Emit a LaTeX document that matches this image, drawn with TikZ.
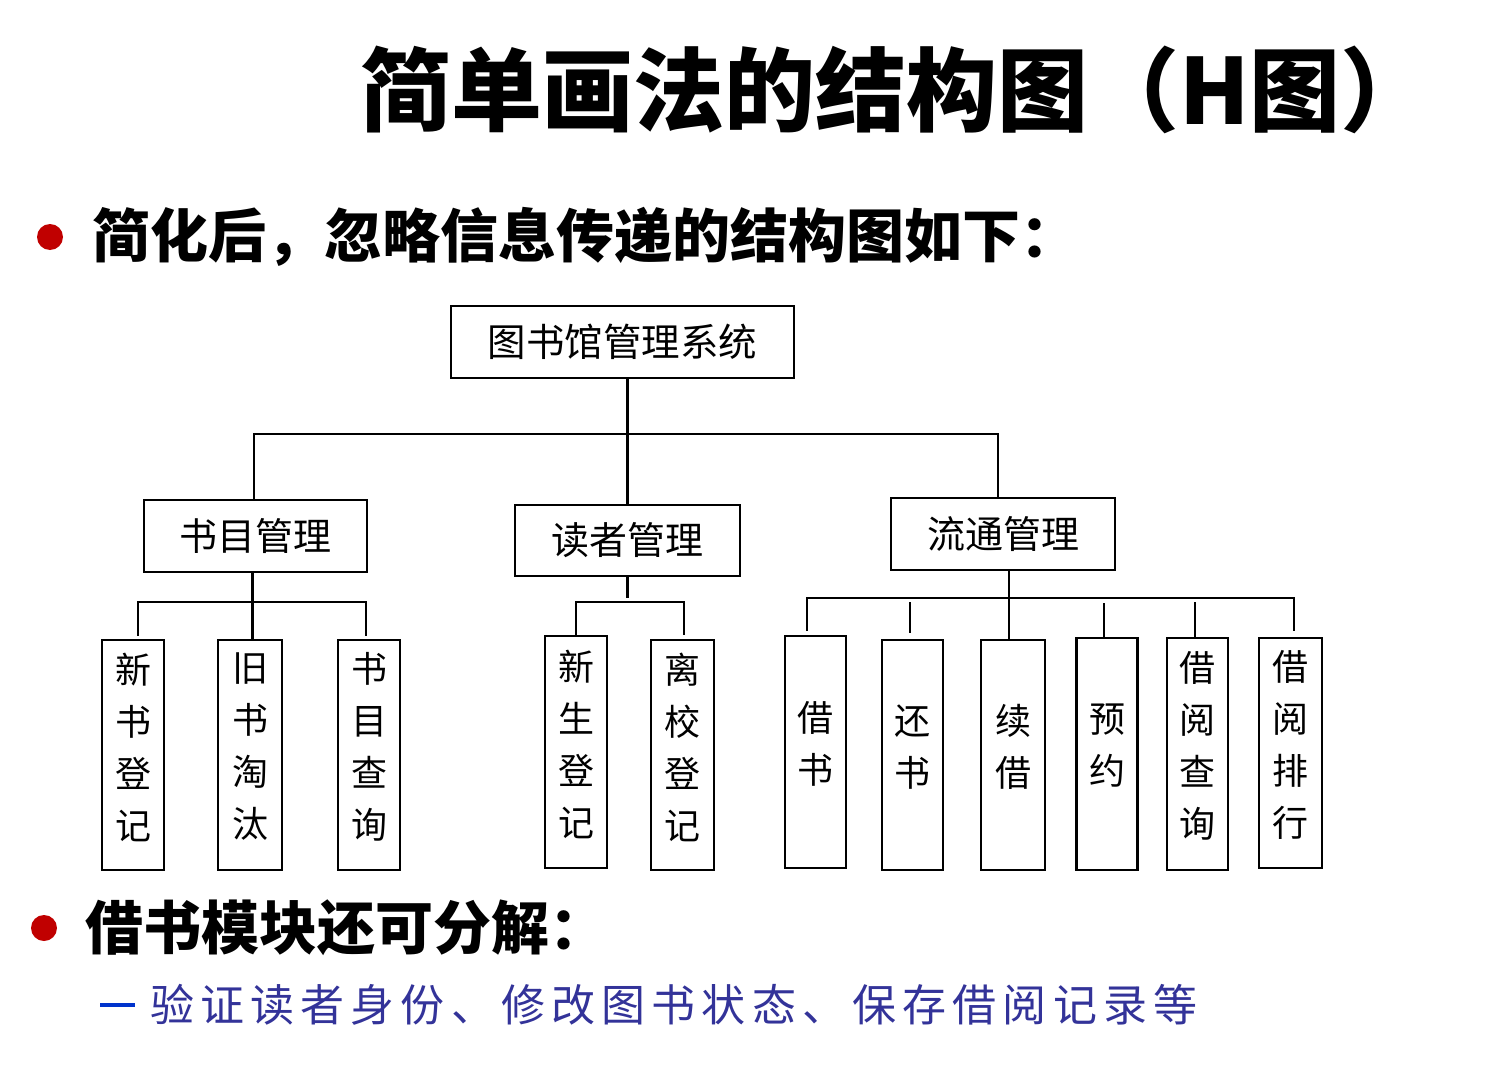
\documentclass[tikz,border=0pt]{standalone}
\usepackage{fontspec}
\setmainfont{Noto Sans CJK SC}
\definecolor{bulletred}{HTML}{C00000}
\definecolor{subblue}{HTML}{333399}
\definecolor{dashblue}{HTML}{0033CC}
\begin{document}
\begin{tikzpicture}[x=1pt,y=-1pt,
  box/.style={draw=black,line width=2.2pt,rectangle,inner sep=0pt,align=center},
  midbox/.style={box,minimum width=224pt,minimum height=72pt,font=\fontsize{38}{46}\selectfont},
  leaf/.style={box,minimum width=63pt,minimum height=230pt},
  leaftext/.style={inner sep=0pt,align=center,font=\fontsize{36}{52}\selectfont},
  link/.style={draw=black,line width=2.2pt},
]
\useasboundingbox (0,0) rectangle (1492,1070);
% title
\node[font=\fontsize{91}{108}\selectfont\bfseries] (title) at (896,90) {简单画法的结构图（H图）};
% bullet 1
\fill[bulletred] (50,237) circle (13) coordinate (dot1);
\node[anchor=west,inner sep=0pt,font=\fontsize{58}{66}\selectfont\bfseries] (b1) at (92,237) {简化后，忽略信息传递的结构图如下：};
% tree: upper levels
\node[box,minimum width=343pt,minimum height=72pt,font=\fontsize{38.5}{46}\selectfont] (root) at (622.5,342) {图书馆管理系统};
\node[midbox,minimum width=223pt] (A) at (255.5,536) {书目管理};
\node[midbox,minimum width=225pt,minimum height=71pt] (B) at (627.5,540.5) {读者管理};
\node[midbox] (C) at (1003,534) {流通管理};
% leaves
\node[leaf,minimum width=62pt] (A1) at (133,755) {};
\node[leaf,minimum width=64pt] (A2) at (250,755) {};
\node[leaf,minimum width=62pt] (A3) at (369,755) {};
\node[leaf,minimum width=62pt,minimum height=232pt] (B1) at (576,752) {};
\node[leaf] (B2) at (682.5,755) {};
\node[leaf,minimum width=61pt,minimum height=232pt] (C1) at (815.5,752) {};
\node[leaf,minimum width=61pt] (C2) at (912.5,755) {};
\node[leaf,minimum width=64pt] (C3) at (1013,755) {};
\node[leaf,minimum width=61pt,minimum height=232pt] (C4) at (1107,754) {};
\node[leaf,minimum width=61pt,minimum height=232pt] (C5) at (1197.5,754) {};
\node[leaf] (C6) at (1290.5,753) {};
% leaf texts
\node[leaftext] (tA1) at ([yshift=8pt]A1.center) {新\\书\\登\\记};
\node[leaftext] (tA2) at ([yshift=8pt]A2.center) {旧\\书\\淘\\汰};
\node[leaftext] (tA3) at ([yshift=8pt]A3.center) {书\\目\\查\\询};
\node[leaftext] (tB1) at ([yshift=8pt]B1.center) {新\\生\\登\\记};
\node[leaftext] (tB2) at ([yshift=8pt]B2.center) {离\\校\\登\\记};
\node[leaftext] (tC1) at ([yshift=8pt]C1.center) {借\\书};
\node[leaftext] (tC2) at ([yshift=8pt]C2.center) {还\\书};
\node[leaftext] (tC3) at ([yshift=8pt]C3.center) {续\\借};
\node[leaftext] (tC4) at ([yshift=8pt]C4.center) {预\\约};
\node[leaftext] (tC5) at ([yshift=8pt]C5.center) {借\\阅\\查\\询};
\node[leaftext] (tC6) at ([yshift=8pt]C6.center) {借\\阅\\排\\行};
% bus coordinates
\coordinate (busTop) at (628,434);
\coordinate (busA) at (252,602);
\coordinate (busB) at (626,602);
\coordinate (busC) at (1009,598);
% connectors
\draw[link] (B.north |- root.south) -- (B.north);
\draw[link] ([xshift=-1.5pt]A.north) |- (busTop) -| ([xshift=-5pt]C.north);
\draw[link] ([xshift=2.5pt]A2.north |- A.south) -- ([xshift=2.5pt]A2.north);
\draw[link,shorten <=3pt,shorten >=3pt] ([xshift=5pt]A1.north) |- (busA) -| ([xshift=-3pt]A3.north);
\draw[link,shorten >=4pt] (B.south) -- (B.south |- busB);
\draw[link,shorten >=4pt] (B1.north) |- (busB) -| ([xshift=1.5pt]B2.north);
\draw[link] ([xshift=-4pt]C3.north |- C.south) -- ([xshift=-4pt]C3.north);
\draw[link,shorten <=4pt,shorten >=6pt] ([xshift=-8.5pt]C1.north) |- (busC) -| ([xshift=3.5pt]C6.north);
\draw[link,shorten <=6pt,shorten >=4pt] ([xshift=-2.5pt]C2.north) -- ([xshift=-2.5pt]C2.north |- busC);
\draw[link,shorten >=5pt] ([xshift=-3pt]C4.north) -- ([xshift=-3pt]C4.north |- busC);
\draw[link,shorten >=4pt] ([xshift=-2.5pt]C5.north) -- ([xshift=-2.5pt]C5.north |- busC);
% bullet 2
\fill[bulletred] (44,928) circle (13) coordinate (dot2);
\node[anchor=west,inner sep=0pt,font=\fontsize{58}{66}\selectfont\bfseries] (b2) at (85,928) {借书模块还可分解：};
% sub item
\coordinate (dashL) at (100,1005);
\coordinate (dashR) at (135,1005);
\draw[dashblue,line width=4pt] (dashL) -- (dashR);
\node[anchor=west,inner sep=0pt,text=subblue,font=\fontsize{44}{52}\selectfont\addfontfeature{LetterSpace=14}] (sub) at (150,1005) {验证读者身份、修改图书状态、保存借阅记录等};
\end{tikzpicture}
\end{document}
